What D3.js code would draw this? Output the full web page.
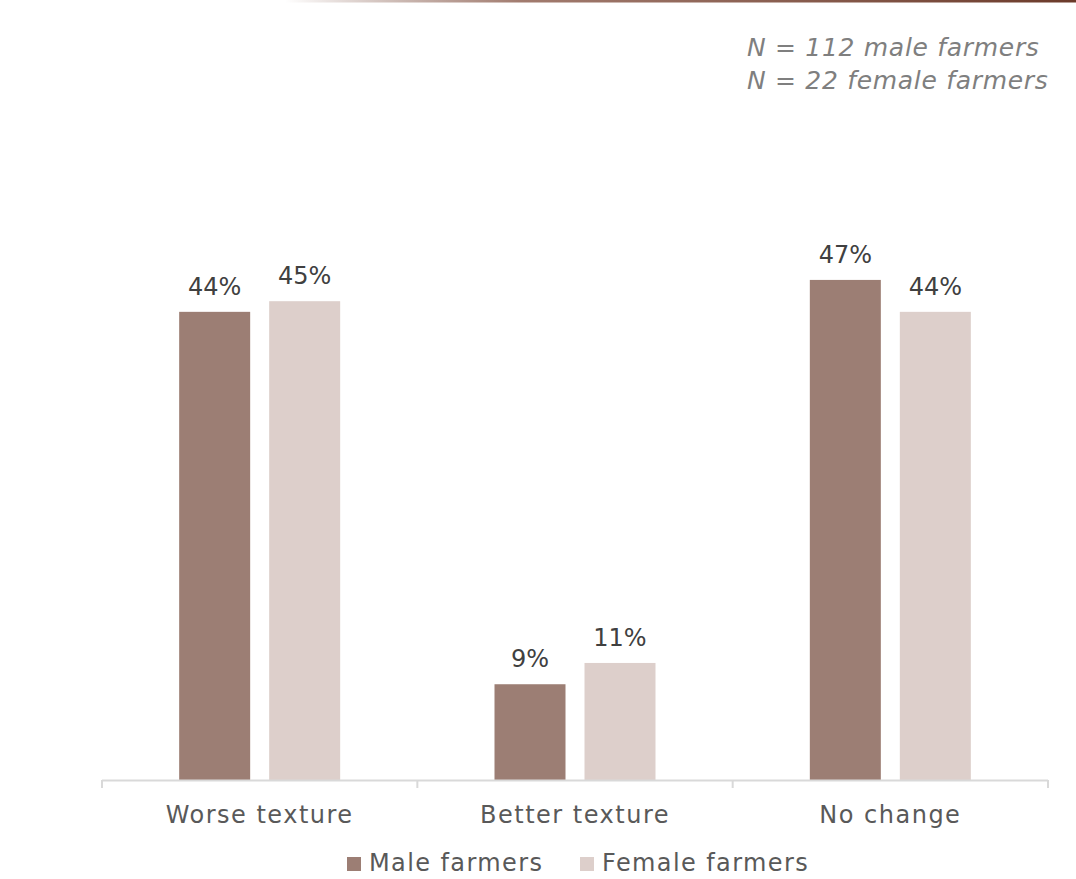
<!DOCTYPE html>
<html><head><meta charset="utf-8">
<script src="https://cdn.jsdelivr.net/npm/d3@7"></script>
<style>body{margin:0;background:#fff}svg{display:block}</style>
</head><body>
<script>
const categories = ["Worse texture", "Better texture", "No change"];
const seriesNames = ["Male farmers", "Female farmers"];
const maleValues = [44, 9, 47];
const femaleValues = [45, 11, 44];
const noteLines = ["N = 112 male farmers", "N = 22 female farmers"];

const W = 1076, H = 879;
const colors = ["#9c7e74", "#ddcfcb"];
const font = "DejaVu Sans";

const svg = d3.select("body").append("svg").attr("width", W).attr("height", H);

// top decorative gradient line
const defs = svg.append("defs");
const grad = defs.append("linearGradient").attr("id", "tg").attr("x1", "0%").attr("x2", "100%");
grad.append("stop").attr("offset", "0%").attr("stop-color", "#6b3a2a").attr("stop-opacity", 0);
grad.append("stop").attr("offset", "30%").attr("stop-color", "#8a5a4a").attr("stop-opacity", 0.8);
grad.append("stop").attr("offset", "100%").attr("stop-color", "#6b3a2a").attr("stop-opacity", 1);
svg.append("rect").attr("x", 285).attr("y", 0).attr("width", W - 285).attr("height", 2.5).attr("fill", "url(#tg)");

// notes
svg.append("g").selectAll("text").data(noteLines).join("text")
  .attr("x", 747).attr("y", (d, i) => 56 + i * 33)
  .attr("font-family", font).attr("font-style", "italic").attr("font-size", 25)
  .attr("letter-spacing", 0.7)
  .attr("fill", "#7f7f7f").text(d => d);

const left = 102, right = 1048, base = 780;
const x0 = d3.scaleBand().domain(categories).range([left, right]).padding(0);
const groupW = 161;
const x1 = d3.scaleBand().domain(seriesNames)
  .range([(x0.bandwidth() - groupW) / 2, (x0.bandwidth() + groupW) / 2]).paddingInner(0.2111);
const y = d3.scaleLinear().domain([0, 50]).range([base, base - 532]);

const data = categories.map((c, i) => ({ cat: c, vals: [maleValues[i], femaleValues[i]] }));

const groups = svg.append("g").selectAll("g").data(data).join("g")
  .attr("transform", d => `translate(${x0(d.cat)},0)`);

groups.selectAll("rect").data(d => d.vals.map((v, j) => ({ s: seriesNames[j], v, j }))).join("rect")
  .attr("x", d => x1(d.s)).attr("width", x1.bandwidth())
  .attr("y", d => y(d.v)).attr("height", d => base - y(d.v))
  .attr("fill", d => colors[d.j]);

groups.selectAll("text.val").data(d => d.vals.map((v, j) => ({ s: seriesNames[j], v, j }))).join("text")
  .attr("class", "val")
  .attr("x", d => x1(d.s) + x1.bandwidth() / 2).attr("y", d => y(d.v) - 17)
  .attr("text-anchor", "middle").attr("font-family", font).attr("font-size", 24)
  .attr("fill", "#404040").text(d => d.v + "%");

// axis
const ax = svg.append("g").attr("transform", `translate(0,${base})`)
  .call(d3.axisBottom(x0).tickSize(0).tickPadding(0));
ax.select(".domain").remove();
ax.selectAll(".tick text").attr("y", 43).attr("dy", 0)
  .attr("font-family", font).attr("font-size", 24).attr("letter-spacing", 1.5).attr("fill", "#595959");
svg.append("line").attr("x1", left).attr("x2", right).attr("y1", base + 0.5).attr("y2", base + 0.5)
  .attr("stroke", "#d9d9d9").attr("stroke-width", 2);
const tickXs = categories.map(c => x0(c)).concat([right]);
svg.append("g").selectAll("line").data(tickXs).join("line")
  .attr("x1", d => d).attr("x2", d => d).attr("y1", base).attr("y2", base + 8)
  .attr("stroke", "#d9d9d9").attr("stroke-width", 2);

// legend
const legX = [347, 580];
const leg = svg.append("g").selectAll("g").data(seriesNames).join("g")
  .attr("transform", (d, i) => `translate(${legX[i]},857)`);
leg.append("rect").attr("width", 14).attr("height", 14).attr("fill", (d, i) => colors[i]);
leg.append("text").attr("x", 22).attr("y", 14).attr("font-family", font).attr("font-size", 24)
  .attr("letter-spacing", 1.4)
  .attr("fill", "#595959").text(d => d);
</script>
</body></html>
